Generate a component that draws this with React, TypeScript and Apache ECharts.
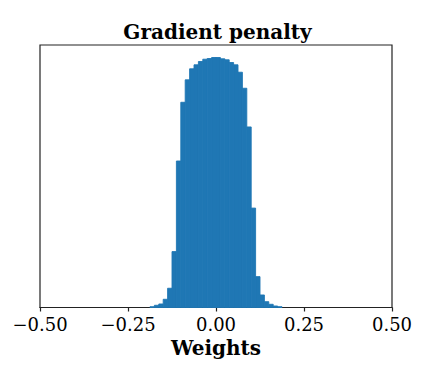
import React, { useEffect, useRef } from "react";
import * as echarts from "echarts";

const titleText = "Gradient penalty";
const xAxisName = "Weights";
const xTicks = [-0.5, -0.25, 0, 0.25, 0.5];
const binWidth = 0.0125;
const binLeft = [
  -0.1875, -0.175, -0.1625, -0.15, -0.1375, -0.125, -0.1125, -0.1, -0.0875, -0.075,
  -0.0625, -0.05, -0.0375, -0.025, -0.0125, 0, 0.0125, 0.025, 0.0375, 0.05,
  0.0625, 0.075, 0.0875, 0.1, 0.1125, 0.125, 0.1375, 0.15, 0.1625, 0.175,
];
const binCounts = [
  0.8, 2.2, 3.5, 8.2, 19.2, 55.8, 146.2, 204.8, 227.2, 238.2,
  242.2, 245.5, 247.8, 248.5, 249.5, 249.5, 248.2, 247.2, 244.5, 242.2,
  234.8, 218.8, 180.2, 99.2, 30.8, 12.5, 5.8, 3.2, 1.5, 0.8,
];

export default function App() {
  const ref = useRef<HTMLDivElement>(null);
  useEffect(() => {
    if (!ref.current) return;
    const chart = echarts.init(ref.current, null, { renderer: "svg" });
    const data = binLeft.map((l, i) => [l, l + binWidth, binCounts[i]]);
    const yMax = Math.max(...binCounts) * 1.05;
    const fmt = (v: number) => (v < 0 ? "\u2212" : "") + Math.abs(v).toFixed(2);
    chart.setOption({
      animation: false,
      title: {
        text: titleText,
        left: "center",
        top: 17,
        textStyle: {
          fontFamily: "DejaVu Serif",
          fontWeight: "bold",
          fontSize: 20,
          color: "#000",
        },
      },
      grid: {
        left: 40,
        right: 43,
        top: 45,
        bottom: 62.5,
        show: true,
        borderColor: "#222",
        borderWidth: 1.2,
        backgroundColor: "transparent",
      },
      xAxis: {
        type: "value",
        min: -0.5,
        max: 0.5,
        interval: 0.25,
        name: xAxisName,
        nameLocation: "middle",
        nameGap: 29,
        nameTextStyle: {
          fontFamily: "DejaVu Serif",
          fontWeight: "bold",
          fontSize: 20,
          color: "#000",
        },
        axisLine: { show: true, lineStyle: { color: "#222", width: 1.2 } },
        axisTick: { show: true, length: 4, lineStyle: { color: "#222", width: 1.2 } },
        splitLine: { show: false },
        axisLabel: {
          margin: 8,
          fontFamily: "DejaVu Serif",
          fontSize: 18,
          color: "#000",
          formatter: (v: number) => (xTicks.includes(v) ? fmt(v) : ""),
        },
      },
      yAxis: {
        type: "value",
        min: 0,
        max: yMax,
        axisLine: { show: false },
        axisTick: { show: false },
        axisLabel: { show: false },
        splitLine: { show: false },
      },
      series: [
        {
          type: "custom",
          data,
          encode: { x: [0, 1], y: 2 },
          renderItem: (params: any, api: any) => {
            const x0 = api.value(0);
            const x1 = api.value(1);
            const h = api.value(2);
            const p0 = api.coord([x0, h]);
            const p1 = api.coord([x1, 0]);
            return {
              type: "rect",
              shape: { x: p0[0], y: p0[1], width: p1[0] - p0[0], height: p1[1] - p0[1] },
              style: { fill: "#1f77b4", stroke: "#1f77b4", lineWidth: 0.9 },
            };
          },
        },
      ],
    });
    return () => chart.dispose();
  }, []);
  return (
    <div
      ref={ref}
      style={{ position: "absolute", left: 0, top: 0, width: 435, height: 370, background: "#fff" }}
    />
  );
}
